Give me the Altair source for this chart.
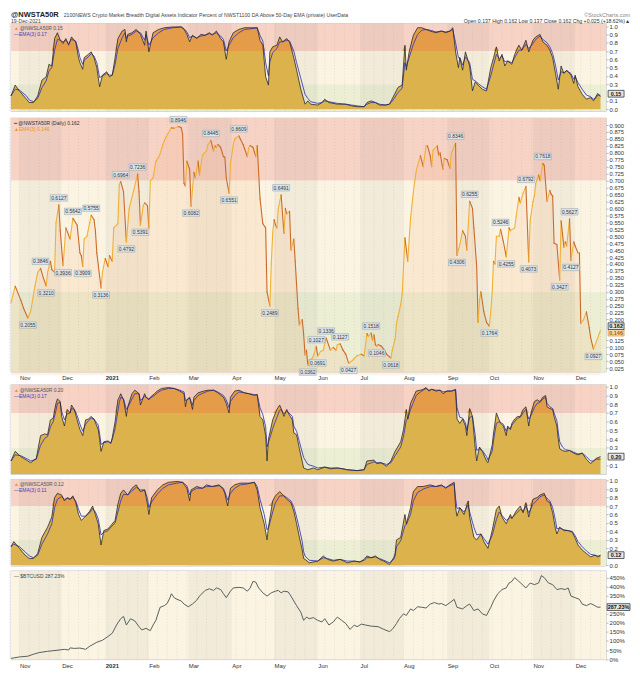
import altair as alt
import pandas as pd

FONT = "Liberation Sans"
W = 598
H1, H2, H3, H4, H5 = 88, 255, 90, 87, 89
DAY0 = pd.Timestamp("2020-11-01")   # day numbers below count from this date

# ---------------- @NWSTA50R (daily, main panel) ----------------
ta_days = [
    -6, -3, 1, 3, 6, 8, 11, 13, 15, 17,
    19, 20, 22, 23, 25, 26, 28, 29, 31, 33,
    36, 38, 41, 43, 44, 45, 46, 48, 50, 51,
    53, 54, 55, 58, 59, 61, 63, 64, 66, 67,
    70, 71, 72, 74, 76, 78, 81, 84, 85, 86,
    88, 89, 91, 92, 93, 95, 97, 99, 100, 102,
    104, 106, 108, 110, 113, 115, 116, 117, 118, 119,
    121, 122, 124, 125, 127, 128, 130, 131, 133, 134,
    136, 138, 139, 140, 141, 143, 145, 146, 147, 149,
    150, 152, 153, 156, 157, 159, 162, 163, 164, 166,
    168, 169, 171, 173, 175, 176, 178, 179, 180, 181,
    182, 183, 184, 186, 188, 189, 190, 192, 193, 195,
    196, 198, 199, 201, 202, 203, 204, 205, 206, 208,
    209, 211, 212, 214, 216, 218, 219, 221, 223, 225,
    226, 228, 230, 232, 234, 236, 238, 240, 243, 245,
    247, 248, 250, 251, 252, 253, 254, 255, 257, 258,
    260, 261, 264, 265, 267, 268, 269, 271, 272, 274,
    276, 278, 280, 282, 283, 285, 287, 289, 290, 292,
    293, 294, 297, 298, 299, 301, 302, 304, 306, 307,
    308, 310, 311, 313, 315, 317, 318, 320, 322, 323,
    325, 326, 327, 328, 330, 332, 334, 335, 336, 337,
    338, 339, 341, 342, 344, 346, 348, 349, 352, 353,
    355, 356, 358, 360, 362, 363, 365, 366, 367, 369,
    370, 372, 373, 375, 377, 378, 379, 380, 382, 384,
    385, 387, 388, 389, 391, 392, 394, 395, 397, 398,
    399, 401, 403, 405, 406, 408, 410, 413]
ta_vals = [
    0.26, 0.32, 0.27, 0.24, 0.2055, 0.23, 0.32, 0.37, 0.3846, 0.35,
    0.3210, 0.37, 0.41, 0.38, 0.37, 0.548, 0.6127, 0.52, 0.3936, 0.53,
    0.49, 0.5642, 0.54, 0.44, 0.43, 0.3909, 0.49, 0.50, 0.55, 0.5755,
    0.56, 0.52, 0.44, 0.3136, 0.37, 0.42, 0.39, 0.43, 0.41, 0.53,
    0.545, 0.686, 0.6964, 0.66, 0.4792, 0.60, 0.66, 0.7236, 0.66, 0.5391,
    0.61, 0.62, 0.61, 0.53, 0.70, 0.71, 0.77, 0.785, 0.797, 0.83,
    0.855, 0.873, 0.89, 0.888, 0.8946, 0.89, 0.866, 0.69, 0.68, 0.77,
    0.74, 0.6082, 0.73, 0.71, 0.77, 0.72, 0.79, 0.797, 0.807, 0.83,
    0.8445, 0.807, 0.825, 0.82, 0.83, 0.82, 0.786, 0.785, 0.71, 0.6551,
    0.76, 0.83, 0.85, 0.8609, 0.85, 0.83, 0.786, 0.82, 0.826, 0.82,
    0.786, 0.826, 0.635, 0.545, 0.53, 0.30, 0.2489, 0.40, 0.51, 0.56,
    0.54, 0.53, 0.60, 0.6491, 0.51, 0.60, 0.58, 0.59, 0.45, 0.49,
    0.41, 0.24, 0.18, 0.20, 0.148, 0.073, 0.09, 0.0362, 0.055, 0.06,
    0.07, 0.1027, 0.0691, 0.085, 0.09, 0.1336, 0.12, 0.09, 0.10, 0.09,
    0.11, 0.1127, 0.09, 0.075, 0.0427, 0.05, 0.06, 0.07, 0.075, 0.07,
    0.15, 0.14, 0.1518, 0.125, 0.145, 0.11, 0.1046, 0.11, 0.105, 0.10,
    0.085, 0.075, 0.0618, 0.09, 0.13, 0.186, 0.21, 0.255, 0.29, 0.494,
    0.41, 0.565, 0.66, 0.734, 0.755, 0.79, 0.75, 0.825, 0.825, 0.79,
    0.75, 0.81, 0.825, 0.79, 0.80, 0.74, 0.78, 0.775, 0.745, 0.80,
    0.81, 0.8346, 0.4306, 0.47, 0.52, 0.50, 0.45, 0.6255, 0.60, 0.53,
    0.39, 0.19, 0.27, 0.30, 0.23, 0.19, 0.1764, 0.23, 0.30, 0.41,
    0.40, 0.50, 0.50, 0.5246, 0.48, 0.4255, 0.53, 0.52, 0.53, 0.57,
    0.64, 0.62, 0.655, 0.6792, 0.4073, 0.555, 0.625, 0.645, 0.69, 0.72,
    0.70, 0.7618, 0.755, 0.625, 0.665, 0.65, 0.645, 0.475, 0.47, 0.3427,
    0.555, 0.46, 0.48, 0.465, 0.5627, 0.4127, 0.48, 0.465, 0.44, 0.44,
    0.186, 0.20, 0.228, 0.17, 0.135, 0.0927, 0.12, 0.162]
ta_peak_days = [15, 28, 38, 51, 72, 84, 113, 136, 156, 186, 211, 218, 228, 250,
                310, 320, 342, 360, 372, 391]
ta_peak_vals = [0.3846, 0.6127, 0.5642, 0.5755, 0.6964, 0.7236, 0.8946, 0.8445,
                0.8609, 0.6491, 0.1027, 0.1336, 0.1127, 0.1518, 0.8346, 0.6255,
                0.5246, 0.6792, 0.7618, 0.5627]
ta_trough_days = [6, 19, 31, 45, 58, 76, 86, 122, 149, 178, 205, 212, 234, 254,
                  264, 311, 334, 346, 362, 384, 392, 408]
ta_trough_vals = [0.2055, 0.3210, 0.3936, 0.3909, 0.3136, 0.4792, 0.5391, 0.6082,
                  0.6551, 0.2489, 0.0362, 0.0691, 0.0427, 0.1046, 0.0618, 0.4306,
                  0.1764, 0.4255, 0.4073, 0.3427, 0.4127, 0.0927]
# right-axis labels (0.150 and 0.175 sit under the last-value tags)
ta_ticks = [0.025, 0.05, 0.075, 0.1, 0.125, 0.2, 0.225, 0.25,
            0.275, 0.3, 0.325, 0.35, 0.375, 0.4, 0.425, 0.45, 0.475, 0.5,
            0.525, 0.55, 0.575, 0.6, 0.625, 0.65, 0.675, 0.7, 0.725, 0.75,
            0.775, 0.8, 0.825, 0.85, 0.875, 0.9]

# ---------------- @NWSLA50R ----------------
la_days = [
    -6, -3, 0, 5, 7, 10, 13, 16, 19, 21,
    23, 25, 27, 29, 31, 33, 35, 37, 40, 42,
    43, 45, 46, 49, 51, 53, 55, 57, 59, 62,
    64, 66, 68, 70, 73, 75, 76, 77, 80, 83,
    86, 89, 90, 92, 95, 99, 103, 109, 115, 117,
    119, 121, 123, 126, 129, 132, 135, 137, 140, 143,
    145, 147, 149, 152, 156, 160, 166, 169, 171, 173,
    175, 177, 178, 180, 183, 185, 187, 190, 192, 195,
    197, 200, 203, 205, 207, 212, 215, 217, 220, 226,
    232, 236, 240, 245, 247, 250, 253, 256, 260, 263,
    266, 269, 272, 274, 275, 277, 280, 283, 286, 289,
    292, 296, 300, 303, 306, 308, 310, 312, 313, 315,
    317, 320, 322, 324, 326, 329, 332, 335, 337, 339,
    341, 343, 345, 347, 350, 352, 355, 357, 360, 362,
    365, 367, 370, 372, 375, 377, 379, 381, 383, 385,
    387, 389, 392, 394, 395, 397, 400, 403, 406, 408,
    410, 411, 413]
la_vals = [
    0.16, 0.29, 0.22, 0.12, 0.08, 0.08, 0.16, 0.35, 0.39, 0.54,
    0.52, 0.85, 0.92, 0.83, 0.79, 0.85, 0.77, 0.87, 0.81, 0.62,
    0.56, 0.48, 0.62, 0.66, 0.69, 0.62, 0.50, 0.27, 0.41, 0.45,
    0.39, 0.41, 0.62, 0.85, 0.94, 0.96, 0.81, 0.90, 0.92, 0.96,
    0.90, 0.77, 0.94, 0.69, 0.92, 0.96, 0.98, 0.99, 0.99, 0.96,
    0.90, 0.81, 0.89, 0.85, 0.90, 0.89, 0.92, 0.89, 0.94, 0.85,
    0.81, 0.60, 0.81, 0.92, 0.96, 0.98, 0.98, 0.98, 0.83, 0.77,
    0.39, 0.29, 0.69, 0.75, 0.77, 0.87, 0.81, 0.85, 0.81, 0.62,
    0.47, 0.24, 0.06, 0.10, 0.06, 0.05, 0.08, 0.12, 0.08, 0.06,
    0.06, 0.04, 0.03, 0.03, 0.08, 0.10, 0.08, 0.05, 0.05, 0.06,
    0.16, 0.26, 0.29, 0.77, 0.47, 0.69, 0.89, 0.98, 0.98, 0.96,
    0.94, 0.92, 0.94, 0.92, 0.94, 0.98, 0.69, 0.50, 0.62, 0.47,
    0.69, 0.52, 0.22, 0.33, 0.29, 0.24, 0.22, 0.50, 0.62, 0.75,
    0.58, 0.66, 0.52, 0.58, 0.54, 0.66, 0.77, 0.71, 0.83, 0.69,
    0.83, 0.87, 0.90, 0.81, 0.77, 0.71, 0.62, 0.43, 0.24, 0.52,
    0.43, 0.47, 0.41, 0.31, 0.41, 0.27, 0.18, 0.12, 0.14, 0.10,
    0.16, 0.19, 0.15]
la_ema = [
    0.16, 0.24, 0.23, 0.16, 0.11, 0.09, 0.13, 0.26, 0.34, 0.46,
    0.50, 0.71, 0.84, 0.83, 0.81, 0.83, 0.79, 0.84, 0.82, 0.70,
    0.62, 0.54, 0.59, 0.63, 0.67, 0.64, 0.56, 0.38, 0.40, 0.43,
    0.41, 0.41, 0.54, 0.73, 0.86, 0.92, 0.85, 0.88, 0.90, 0.94,
    0.92, 0.83, 0.90, 0.77, 0.86, 0.92, 0.96, 0.98, 0.99, 0.97,
    0.93, 0.86, 0.88, 0.86, 0.88, 0.89, 0.91, 0.90, 0.92, 0.88,
    0.84, 0.70, 0.77, 0.86, 0.92, 0.96, 0.97, 0.98, 0.89, 0.82,
    0.56, 0.40, 0.57, 0.68, 0.73, 0.81, 0.81, 0.83, 0.82, 0.70,
    0.56, 0.37, 0.18, 0.13, 0.09, 0.07, 0.08, 0.10, 0.09, 0.07,
    0.06, 0.05, 0.04, 0.03, 0.06, 0.08, 0.08, 0.06, 0.05, 0.06,
    0.12, 0.20, 0.25, 0.56, 0.51, 0.62, 0.78, 0.90, 0.95, 0.96,
    0.95, 0.93, 0.94, 0.93, 0.94, 0.96, 0.80, 0.62, 0.62, 0.53,
    0.63, 0.56, 0.36, 0.34, 0.31, 0.27, 0.24, 0.40, 0.53, 0.66,
    0.61, 0.64, 0.57, 0.58, 0.56, 0.62, 0.71, 0.71, 0.78, 0.73,
    0.79, 0.84, 0.88, 0.84, 0.80, 0.75, 0.67, 0.53, 0.35, 0.45,
    0.44, 0.46, 0.43, 0.36, 0.39, 0.32, 0.24, 0.17, 0.15, 0.12,
    0.14, 0.17, 0.17]

# ---------------- @NWSEA50R ----------------
ea_days = [
    -6, -3, 1, 6, 8, 12, 15, 18, 20, 22,
    24, 26, 27, 29, 30, 32, 34, 36, 37, 39,
    41, 43, 45, 47, 49, 51, 53, 56, 57, 58,
    60, 63, 65, 66, 68, 70, 71, 72, 74, 76,
    77, 80, 82, 85, 86, 89, 90, 92, 93, 96,
    98, 101, 106, 110, 114, 117, 118, 119, 121, 123,
    124, 127, 131, 134, 138, 141, 145, 147, 149, 150,
    153, 156, 160, 163, 167, 169, 171, 173, 175, 176,
    177, 180, 183, 185, 186, 188, 190, 191, 194, 195,
    197, 199, 202, 205, 209, 212, 217, 221, 226, 230,
    233, 240, 245, 247, 252, 254, 257, 261, 264, 267,
    271, 273, 275, 276, 278, 280, 282, 285, 287, 289,
    291, 293, 296, 299, 301, 304, 307, 310, 311, 313,
    315, 317, 318, 320, 322, 324, 325, 327, 329, 332,
    333, 336, 337, 339, 341, 342, 344, 346, 347, 349,
    350, 352, 354, 356, 358, 360, 362, 363, 366, 368,
    370, 372, 374, 375, 377, 379, 380, 382, 383, 384,
    386, 388, 391, 394, 397, 400, 403, 406, 408, 410,
    413]
ea_vals = [
    0.15, 0.26, 0.20, 0.15, 0.13, 0.18, 0.44, 0.46, 0.45, 0.62,
    0.64, 0.81, 0.86, 0.83, 0.66, 0.55, 0.74, 0.70, 0.79, 0.74,
    0.62, 0.51, 0.44, 0.62, 0.63, 0.66, 0.63, 0.51, 0.40, 0.26,
    0.37, 0.38, 0.35, 0.42, 0.60, 0.85, 0.88, 0.92, 0.85, 0.66,
    0.77, 0.92, 0.96, 0.92, 0.79, 0.92, 0.88, 0.85, 0.88, 0.92,
    0.95, 0.98, 0.99, 0.98, 0.95, 0.92, 0.77, 0.85, 0.88, 0.74,
    0.88, 0.93, 0.95, 0.96, 0.96, 0.93, 0.88, 0.81, 0.70, 0.88,
    0.95, 0.96, 0.93, 0.92, 0.90, 0.91, 0.66, 0.62, 0.44, 0.15,
    0.40, 0.62, 0.74, 0.79, 0.75, 0.66, 0.74, 0.70, 0.62, 0.47,
    0.45, 0.29, 0.07, 0.05, 0.07, 0.05, 0.08, 0.06, 0.07, 0.06,
    0.05, 0.04, 0.05, 0.15, 0.16, 0.12, 0.13, 0.09, 0.15, 0.26,
    0.37, 0.51, 0.74, 0.63, 0.81, 0.88, 0.95, 0.96, 0.97, 0.99,
    0.95, 0.97, 0.95, 0.96, 0.92, 0.95, 0.95, 0.97, 0.63, 0.58,
    0.63, 0.55, 0.44, 0.75, 0.66, 0.29, 0.15, 0.31, 0.26, 0.15,
    0.13, 0.33, 0.47, 0.70, 0.62, 0.58, 0.55, 0.44, 0.55, 0.51,
    0.58, 0.63, 0.66, 0.66, 0.74, 0.77, 0.55, 0.66, 0.83, 0.85,
    0.83, 0.88, 0.90, 0.77, 0.75, 0.74, 0.66, 0.55, 0.40, 0.29,
    0.27, 0.26, 0.27, 0.24, 0.22, 0.24, 0.17, 0.12, 0.15, 0.18,
    0.20]
ea_ema = [
    0.15, 0.22, 0.21, 0.17, 0.15, 0.17, 0.33, 0.41, 0.43, 0.54,
    0.60, 0.73, 0.81, 0.82, 0.72, 0.62, 0.69, 0.70, 0.75, 0.74,
    0.67, 0.57, 0.49, 0.57, 0.61, 0.64, 0.63, 0.56, 0.46, 0.34,
    0.36, 0.37, 0.36, 0.40, 0.52, 0.72, 0.82, 0.88, 0.86, 0.74,
    0.76, 0.86, 0.92, 0.92, 0.84, 0.89, 0.88, 0.86, 0.87, 0.90,
    0.93, 0.96, 0.98, 0.98, 0.96, 0.94, 0.84, 0.85, 0.87, 0.79,
    0.84, 0.90, 0.93, 0.95, 0.96, 0.94, 0.90, 0.85, 0.76, 0.83,
    0.90, 0.94, 0.93, 0.92, 0.91, 0.91, 0.76, 0.68, 0.54, 0.31,
    0.36, 0.52, 0.65, 0.73, 0.74, 0.69, 0.72, 0.71, 0.66, 0.55,
    0.49, 0.37, 0.19, 0.11, 0.09, 0.07, 0.08, 0.07, 0.07, 0.06,
    0.05, 0.04, 0.05, 0.11, 0.14, 0.13, 0.13, 0.11, 0.13, 0.21,
    0.31, 0.43, 0.62, 0.63, 0.74, 0.82, 0.90, 0.94, 0.96, 0.98,
    0.96, 0.97, 0.96, 0.96, 0.94, 0.95, 0.95, 0.96, 0.76, 0.65,
    0.64, 0.59, 0.50, 0.65, 0.66, 0.44, 0.27, 0.29, 0.27, 0.20,
    0.16, 0.26, 0.39, 0.58, 0.60, 0.59, 0.57, 0.49, 0.53, 0.52,
    0.56, 0.60, 0.64, 0.65, 0.70, 0.74, 0.63, 0.65, 0.76, 0.81,
    0.82, 0.86, 0.88, 0.81, 0.77, 0.75, 0.70, 0.61, 0.48, 0.37,
    0.31, 0.28, 0.27, 0.25, 0.23, 0.24, 0.20, 0.15, 0.15, 0.17,
    0.17]

# ---------------- @NWSCA50R ----------------
ca_days = [
    -6, -4, 0, 4, 7, 10, 13, 16, 20, 23,
    25, 27, 30, 32, 34, 36, 38, 40, 42, 44,
    47, 50, 52, 54, 56, 58, 60, 63, 65, 68,
    70, 72, 74, 77, 80, 83, 86, 89, 91, 92,
    94, 98, 102, 106, 112, 116, 119, 121, 122, 126,
    130, 133, 137, 142, 145, 146, 148, 150, 153, 157,
    162, 164, 167, 169, 171, 174, 176, 177, 180, 182,
    185, 188, 190, 193, 195, 197, 199, 201, 202, 203,
    206, 212, 216, 219, 223, 228, 233, 238, 242, 245,
    247, 250, 253, 256, 259, 263, 266, 267, 268, 271,
    274, 275, 278, 280, 283, 287, 292, 296, 300, 303,
    306, 309, 310, 311, 313, 316, 319, 320, 323, 325,
    328, 330, 333, 336, 339, 341, 343, 346, 349, 350,
    353, 356, 358, 360, 362, 365, 368, 370, 373, 375,
    377, 379, 381, 382, 384, 387, 390, 393, 395, 397,
    400, 403, 406, 409, 411, 413]
ca_vals = [
    0.22, 0.28, 0.20, 0.12, 0.08, 0.08, 0.14, 0.33, 0.45, 0.57,
    0.80, 0.85, 0.83, 0.76, 0.80, 0.78, 0.82, 0.74, 0.60, 0.53,
    0.58, 0.64, 0.70, 0.60, 0.49, 0.24, 0.41, 0.43, 0.47, 0.53,
    0.72, 0.85, 0.89, 0.83, 0.91, 0.95, 0.87, 0.89, 0.72, 0.60,
    0.80, 0.89, 0.95, 0.98, 0.99, 0.98, 0.91, 0.76, 0.89, 0.93,
    0.91, 0.95, 0.93, 0.95, 0.89, 0.85, 0.70, 0.91, 0.95, 0.97,
    0.97, 0.97, 0.98, 0.89, 0.68, 0.49, 0.30, 0.45, 0.76, 0.82,
    0.87, 0.82, 0.78, 0.74, 0.64, 0.49, 0.33, 0.18, 0.08, 0.07,
    0.03, 0.05, 0.11, 0.07, 0.05, 0.07, 0.03, 0.05, 0.04, 0.07,
    0.11, 0.09, 0.11, 0.07, 0.05, 0.01, 0.09, 0.14, 0.30, 0.33,
    0.60, 0.49, 0.68, 0.87, 0.93, 0.93, 0.95, 0.93, 0.95, 0.91,
    0.95, 0.98, 0.68, 0.58, 0.68, 0.60, 0.76, 0.57, 0.33, 0.30,
    0.37, 0.28, 0.20, 0.41, 0.66, 0.70, 0.57, 0.49, 0.60, 0.55,
    0.64, 0.70, 0.62, 0.74, 0.57, 0.78, 0.80, 0.83, 0.85, 0.76,
    0.74, 0.62, 0.43, 0.37, 0.45, 0.41, 0.41, 0.39, 0.32, 0.24,
    0.18, 0.14, 0.10, 0.12, 0.10, 0.12]
ca_ema = [
    0.22, 0.25, 0.22, 0.16, 0.11, 0.09, 0.12, 0.25, 0.37, 0.49,
    0.68, 0.78, 0.81, 0.78, 0.79, 0.78, 0.80, 0.76, 0.66, 0.58,
    0.58, 0.62, 0.67, 0.63, 0.55, 0.36, 0.39, 0.41, 0.45, 0.50,
    0.63, 0.76, 0.84, 0.83, 0.88, 0.92, 0.89, 0.89, 0.79, 0.68,
    0.75, 0.84, 0.91, 0.95, 0.97, 0.98, 0.94, 0.83, 0.87, 0.91,
    0.91, 0.93, 0.93, 0.94, 0.91, 0.87, 0.77, 0.85, 0.91, 0.95,
    0.96, 0.97, 0.98, 0.93, 0.78, 0.60, 0.42, 0.44, 0.63, 0.74,
    0.82, 0.82, 0.80, 0.76, 0.69, 0.57, 0.43, 0.28, 0.16, 0.11,
    0.06, 0.05, 0.09, 0.08, 0.06, 0.07, 0.05, 0.05, 0.04, 0.06,
    0.09, 0.09, 0.10, 0.08, 0.06, 0.03, 0.07, 0.11, 0.22, 0.29,
    0.47, 0.48, 0.60, 0.76, 0.86, 0.90, 0.93, 0.93, 0.94, 0.92,
    0.94, 0.96, 0.79, 0.67, 0.68, 0.63, 0.71, 0.63, 0.45, 0.36,
    0.37, 0.32, 0.25, 0.35, 0.54, 0.63, 0.59, 0.53, 0.57, 0.56,
    0.61, 0.66, 0.64, 0.70, 0.62, 0.72, 0.77, 0.81, 0.83, 0.79,
    0.76, 0.68, 0.53, 0.43, 0.44, 0.42, 0.41, 0.40, 0.35, 0.28,
    0.22, 0.17, 0.13, 0.12, 0.11, 0.11]

# ---------------- $BTCUSD (% change) ----------------
btc_days = [
    -6, 0, 6, 10, 14, 20, 26, 32, 35, 36,
    39, 43, 47, 50, 55, 59, 63, 66, 69, 72,
    74, 76, 79, 82, 85, 87, 90, 93, 95, 97,
    100, 103, 105, 107, 108, 110, 112, 115, 117, 120,
    123, 126, 128, 132, 135, 138, 140, 143, 145, 147,
    150, 152, 156, 159, 162, 164, 166, 168, 170, 173,
    176, 179, 182, 184, 186, 188, 191, 193, 195, 197,
    200, 202, 204, 206, 209, 212, 215, 217, 220, 223,
    226, 229, 232, 235, 238, 240, 243, 246, 250, 255,
    259, 263, 265, 268, 270, 273, 275, 278, 280, 283,
    286, 289, 292, 295, 298, 300, 303, 306, 309, 311,
    315, 318, 320, 323, 326, 329, 332, 335, 337, 340,
    343, 346, 348, 350, 352, 355, 358, 360, 363, 366,
    369, 371, 373, 376, 379, 382, 385, 388, 390, 392,
    395, 398, 400, 403, 406, 409, 411, 413]
btc_pct = [
    4, 12, 16, 27, 36, 43, 48, 54, 50, 62,
    59, 61, 54, 71, 93, 104, 125, 143, 188, 223,
    236, 188, 223, 211, 179, 161, 170, 157, 188, 214,
    286, 295, 307, 339, 361, 339, 330, 321, 304, 289,
    304, 325, 348, 379, 388, 379, 393, 384, 361, 339,
    375, 393, 396, 393, 375, 393, 429, 425, 393, 366,
    348, 366, 375, 379, 366, 375, 371, 348, 321, 295,
    259, 214, 232, 223, 229, 214, 205, 223, 188, 205,
    232, 214, 196, 164, 188, 179, 193, 188, 182, 179,
    164, 152, 164, 196, 223, 250, 241, 277, 268, 289,
    286, 282, 304, 312, 304, 307, 295, 312, 330, 286,
    277, 295, 304, 268, 277, 250, 241, 286, 321, 361,
    384, 393, 420, 429, 450, 429, 407, 393, 420, 411,
    420, 461, 450, 420, 411, 384, 389, 384, 393, 348,
    339, 330, 304, 295, 307, 295, 286, 287.23]
# right-axis labels; the one hidden by each panel's last-value tag is left out
btc_ticks = [0, 50, 100, 150, 200, 250, 350, 400, 450]
la_ticks = [0.0, 0.1, 0.3, 0.4, 0.5, 0.6, 0.7, 0.8, 0.9, 1.0]
ea_ticks = [0.1, 0.3, 0.4, 0.5, 0.6, 0.7, 0.8, 0.9, 1.0]
ca_ticks = [0.0, 0.2, 0.3, 0.4, 0.5, 0.6, 0.7, 0.8, 0.9, 1.0]

# calendar furniture
shade_starts = ["2020-11-01", "2021-01-01", "2021-03-01", "2021-05-01",
                "2021-07-01", "2021-09-01", "2021-11-01"]
shade_ends = ["2020-12-01", "2021-02-01", "2021-04-01", "2021-06-01",
              "2021-08-01", "2021-10-01", "2021-12-01"]

for a, b in [(ta_days, ta_vals), (la_days, la_vals), (la_days, la_ema),
             (ea_days, ea_vals), (ea_days, ea_ema), (ca_days, ca_vals),
             (ca_days, ca_ema), (btc_days, btc_pct),
             (ta_peak_days, ta_peak_vals), (ta_trough_days, ta_trough_vals)]:
    assert len(a) == len(b), (len(a), len(b))


def to_dates(days):
    return [DAY0 + pd.Timedelta(days=d) for d in days]


X_SCALE = alt.Scale(domain=[alt.DateTime(year=2020, month=10, date=26),
                            alt.DateTime(year=2021, month=12, date=23)])
MONTH_TICKS = ([alt.DateTime(year=2020, month=11, date=1),
                alt.DateTime(year=2020, month=12, date=1)] +
               [alt.DateTime(year=2021, month=m, date=1) for m in range(1, 13)])
WEEKS = pd.date_range("2020-10-25", "2021-12-19", freq="7D")

RED, CREAM, GREEN = "#f7d3c6", "#fcf4e2", "#edefd5"


def x_axis():
    return alt.Axis(values=MONTH_TICKS, title=None, grid=False, domain=False,
                    ticks=False, labels=True, labelAlign="left", labelPadding=3,
                    labelOverlap=False,
                    labelFont=FONT, labelFontSize=6, labelColor="#333",
                    labelExpr="month(datum.value) == 0 ? timeFormat(datum.value, '%Y') : timeFormat(datum.value, '%b')",
                    labelFontWeight={"condition": {"test": "month(datum.value) == 0", "value": "bold"},
                                     "value": "normal"})


def y_axis(values, fmt=None, expr=None, size=6):
    kw = dict(orient="right", values=values, title=None, labels=True, labelFont=FONT,
              labelFontSize=size, labelColor="#333", labelPadding=1, labelOverlap=False,
              labelBound=False, ticks=True, tickSize=2,
              tickColor="#777", tickWidth=0.5, domain=False, grid=True,
              gridColor="#a89f8e", gridDash=[1, 2], gridOpacity=0.5,
              gridWidth=0.5)
    if fmt:
        kw["format"] = fmt
    if expr:
        kw["labelExpr"] = expr
    return alt.Axis(**kw)


class Panel:
    """Scales and axes shared by every layer of one panel (same axis spec everywhere)."""

    def __init__(self, H, ydom, yax, xax):
        self.H = H
        self.ys = alt.Scale(domain=ydom, nice=False, zero=False)
        self.yax = yax
        self.xax = xax

    def X(self, field):
        return alt.X(field, scale=X_SCALE, axis=self.xax)

    def Y(self, field):
        return alt.Y(field, scale=self.ys, axis=self.yax)

    def background(self, bands):
        band_df = pd.DataFrame({"y0": [b[0] for b in bands], "y1": [b[1] for b in bands],
                                "c": [b[2] for b in bands]})
        rect = alt.Chart(band_df).mark_rect().encode(
            x=alt.value(0), x2=alt.value(W),
            y=self.Y("y0:Q"), y2="y1:Q",
            color=alt.Color("c:N", scale=None))
        shade = alt.Chart(pd.DataFrame({"s": pd.to_datetime(shade_starts),
                                        "e": pd.to_datetime(shade_ends)})).mark_rect(
            color="#000000", opacity=0.035).encode(
            x=self.X("s:T"), x2="e:T", y=alt.value(0), y2=alt.value(self.H))
        weeks = alt.Chart(pd.DataFrame({"w": WEEKS})).mark_rule(
            color="#b3a892", strokeWidth=0.5, strokeDash=[1, 2], opacity=0.6).encode(
            x=self.X("w:T"), y=alt.value(0), y2=alt.value(self.H))
        return [rect, shade, weeks]

    def tag(self, val, label, fill, stroke, hw=8.0, cx=None, color="#111", dy=0):
        h = 3.4 / hw
        path = f"M-1,-{h:.3f}L1,-{h:.3f}L1,{h:.3f}L-1,{h:.3f}Z"
        cx = W + 10 if cx is None else cx
        df = pd.DataFrame({"v": [val], "t": [label]})
        box = alt.Chart(df).mark_point(shape=path, size=(2 * hw) ** 2, filled=True,
                                       fill=fill, stroke=stroke, strokeWidth=0.7,
                                       opacity=1, yOffset=dy).encode(
            x=alt.value(cx), y=self.Y("v:Q"))
        t = alt.Chart(df).mark_text(font=FONT, fontSize=5.5, fontWeight="bold",
                                    color=color, baseline="middle", yOffset=dy).encode(
            text="t:N", x=alt.value(cx), y=self.Y("v:Q"))
        return [box, t]


def txt(s, x, y, color="#333", size=5.0, weight="normal", align="left"):
    return alt.Chart(pd.DataFrame({"t": [s]})).mark_text(
        align=align, baseline="middle", font=FONT, fontSize=size,
        fontWeight=weight, color=color).encode(
        text="t:N", x=alt.value(x), y=alt.value(y))


def header():
    return [
        txt("@NWSTA50R", 0, -9, "#222", 7.5, "bold"),
        txt("2100NEWS Crypto Market Breadth Digital Assets Indicator Percent of NWST1100 DA Above 50-Day EMA (private)  UserData",
            53, -9, "#444", 5.2),
        txt("19-Dec-2021", 0, -3, "#444", 5.2),
        txt("\u00a9StockCharts.com", W + 24, -9, "#888", 5.5, align="right"),
        txt("Open 0.137  High 0.162  Low 0.137  Close 0.162  Chg +0.025 (+18.62%)\u25b2",
            W + 24, -3, "#333", 5.2, align="right"),
    ]


def breadth_panel(days, vals, ema, H, dom, ticks, name, val_txt, ema_txt,
                  with_header=False, tag_dy=0):
    P = Panel(H, dom, y_axis(ticks, ".1f"), None)
    df = pd.DataFrame({"date": to_dates(days), "v": vals, "ema": ema})
    layers = P.background([(dom[0], 0.3, GREEN), (0.3, 0.7, CREAM), (0.7, dom[1], RED)])
    base = alt.Chart(df).encode(x=P.X("date:T"))
    gold = base.mark_area(color="#dbb24b").encode(y=P.Y("v:Q"), y2=alt.value(H))
    hot = base.transform_calculate(top="max(datum.v, 0.7)").mark_area(color="#e59c48").encode(
        y=P.Y("top:Q"), y2=alt.datum(0.7))
    emaline = base.mark_line(color="#3d3db8", strokeWidth=0.9).encode(y=P.Y("ema:Q"))
    main = base.mark_line(color="#2a2a2a", strokeWidth=0.8).encode(y=P.Y("v:Q"))
    layers += [gold, hot, emaline, main]
    layers += [txt("\u25b2", 3, 5, "#e79a36", 5), txt(f"{name} {val_txt}", 9, 5, "#555", 5),
               txt(f"\u2014EMA(3) {ema_txt}", 3, 11, "#3d3db8", 5)]
    layers += P.tag(float(val_txt), val_txt, "#e3e6ea", "#222", dy=tag_dy)
    if with_header:
        layers += header()
    return alt.layer(*layers).properties(width=W, height=H)


def ta_panel():
    H = H2
    P = Panel(H, [0.012, 0.925], y_axis(ta_ticks, ".3f", size=5.8), x_axis())
    layers = P.background([(0.012, 0.3, GREEN), (0.3, 0.7, CREAM), (0.7, 0.925, RED)])
    dts = to_dates(ta_days)
    df = pd.DataFrame({"date": dts, "v": ta_vals})
    fill = alt.Chart(df).mark_area(color="#f2a060", opacity=0.14).encode(
        x=P.X("date:T"), y=P.Y("v:Q"), y2=alt.value(H))
    seg = pd.DataFrame({"d1": dts[:-1], "d2": dts[1:], "v1": ta_vals[:-1], "v2": ta_vals[1:]})
    seg["dir"] = ["up" if b >= a else "down" for a, b in zip(seg["v1"], seg["v2"])]
    segs = alt.Chart(seg).mark_rule(strokeWidth=1.1, strokeCap="round").encode(
        x=P.X("d1:T"), x2="d2:T", y=P.Y("v1:Q"), y2="v2:Q",
        color=alt.Color("dir:N", scale=alt.Scale(domain=["up", "down"],
                                                  range=["#f0b134", "#cc6a2c"]), legend=None))
    layers += [fill, segs]
    box_path = "M-1,-0.38L1,-0.38L1,0.38L-1,0.38Z"
    for d, v, off in [(ta_peak_days, ta_peak_vals, -7), (ta_trough_days, ta_trough_vals, 7)]:
        ldf = pd.DataFrame({"date": to_dates(d), "v": v})
        layers.append(alt.Chart(ldf).mark_point(
            shape=box_path, size=289, filled=True, fill="#dde5ea", stroke="#8fa0ab",
            strokeWidth=0.5, opacity=1, yOffset=off).encode(x=P.X("date:T"), y=P.Y("v:Q")))
        layers.append(alt.Chart(ldf).mark_text(
            font=FONT, fontSize=5, color="#333", baseline="middle", yOffset=off).encode(
            text=alt.Text("v:Q", format=".4f"), x=P.X("date:T"), y=P.Y("v:Q")))
    layers += [txt("\u2501 @NWSTA50R (Daily) 0.162", 3, 5, "#333", 5),
               txt("\u25b2EMA(3) 0.146", 3, 11, "#e8962c", 5)]
    layers += P.tag(0.146, "0.146", "#f9dcae", "#e08a2c", color="#a05a10", dy=-2)
    layers += P.tag(0.162, "0.162", "#e3e6ea", "#222", dy=-4)
    return alt.layer(*layers).properties(width=W, height=H)


def btc_panel():
    H = H5
    P = Panel(H, [-2, 487], y_axis(btc_ticks, expr="datum.value + '%'"), x_axis())
    layers = P.background([(-2, 487, CREAM)])
    df = pd.DataFrame({"date": to_dates(btc_days), "p": btc_pct})
    line = alt.Chart(df).mark_line(color="#56605f", strokeWidth=1).encode(
        x=P.X("date:T"), y=P.Y("p:Q"))
    layers += [line, txt("\u2014 $BTCUSD 287.23%", 3, 5, "#444", 5)]
    layers += P.tag(287.23, "287.23%", "#e3e6ea", "#222", hw=11.5, cx=W + 12.5)
    return alt.layer(*layers).properties(width=W, height=H)


p1 = breadth_panel(la_days, la_vals, la_ema, H1, [-0.023, 1.031], la_ticks,
                   "@NWSLA50R", "0.15", "0.17", with_header=True, tag_dy=-3)
p2 = ta_panel()
p3 = breadth_panel(ea_days, ea_vals, ea_ema, H3, [-0.003, 1.022], ea_ticks,
                   "@NWSEA50R", "0.20", "0.17")
p4 = breadth_panel(ca_days, ca_vals, ca_ema, H4, [-0.007, 1.015], ca_ticks,
                   "@NWSCA50R", "0.12", "0.11")
p5 = btc_panel()

chart = alt.vconcat(p1, p2, p3, p4, p5, spacing=1).properties(
    padding=0, background="white"
).configure_view(stroke="#a0a0a0", strokeWidth=0.6)

chart.save("out.html", embed_options={"renderer": "svg", "actions": False})
